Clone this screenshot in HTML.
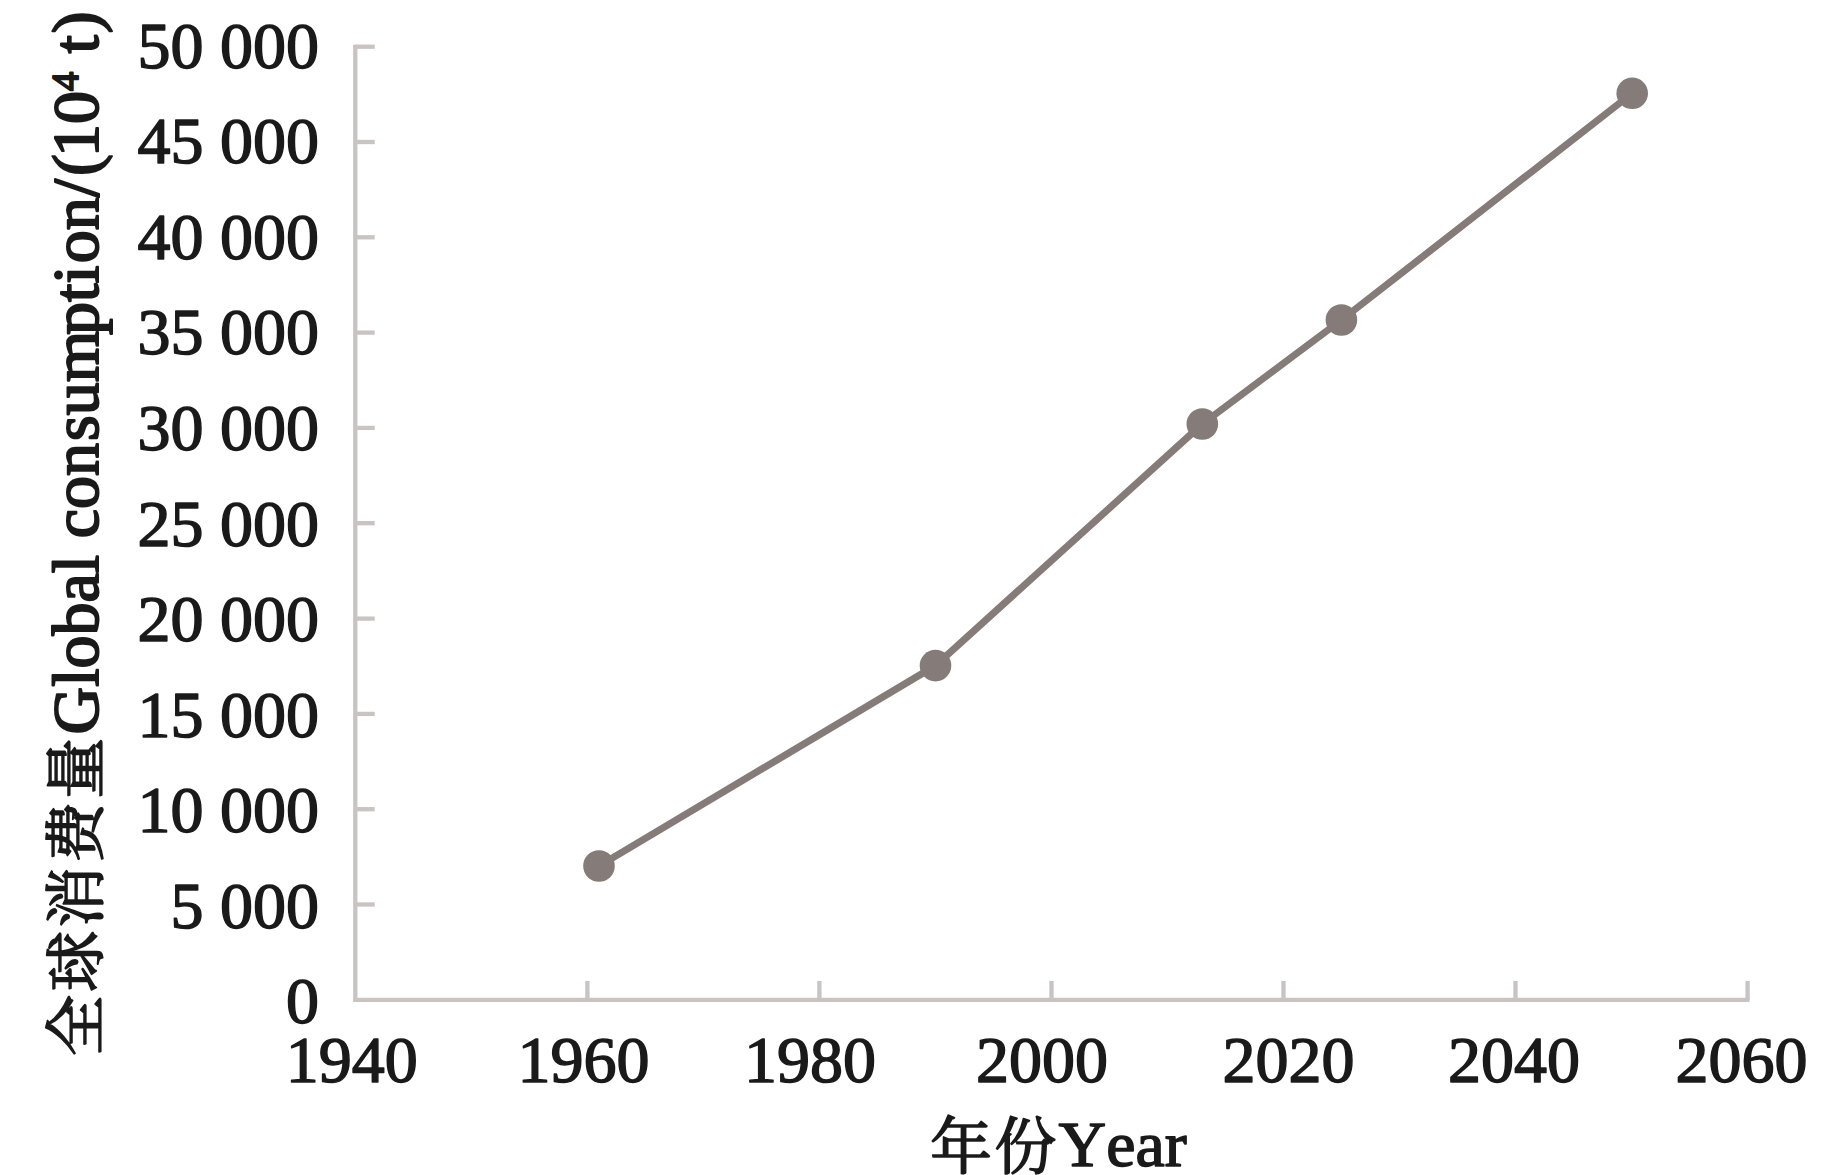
<!DOCTYPE html>
<html lang="zh">
<head>
<meta charset="utf-8">
<title>全球消费量 Global consumption</title>
<style>
html,body{margin:0;padding:0;background:#fff;}
body{width:1843px;height:1175px;overflow:hidden;}
svg{display:block;}
text{font-family:"Liberation Serif","Noto Serif CJK SC",serif;fill:#1a1a1a;stroke:#1a1a1a;stroke-width:1.5px;stroke-linejoin:round;}
.cjk{font-family:"Noto Serif CJK SC","Liberation Serif",serif;font-weight:400;stroke-width:1.6px;}
.num{font-size:66px;}
</style>
</head>
<body>
<svg width="1843" height="1175" viewBox="0 0 1843 1175">
<rect width="1843" height="1175" fill="#fff"/>

<g stroke="#c9c3c1" stroke-width="4.3" fill="none" stroke-linecap="butt">
<path d="M355.3 44.7 V999.8 H1749.5"/>
<path d="M355.3 46.7 H374.7"/>
<path d="M355.3 142.0 H374.7"/>
<path d="M355.3 237.3 H374.7"/>
<path d="M355.3 332.6 H374.7"/>
<path d="M355.3 427.9 H374.7"/>
<path d="M355.3 523.2 H374.7"/>
<path d="M355.3 618.6 H374.7"/>
<path d="M355.3 713.9 H374.7"/>
<path d="M355.3 809.2 H374.7"/>
<path d="M355.3 904.5 H374.7"/>
<path d="M587.4 999.8 V981.0"/>
<path d="M819.4 999.8 V981.0"/>
<path d="M1051.5 999.8 V981.0"/>
<path d="M1283.5 999.8 V981.0"/>
<path d="M1515.5 999.8 V981.0"/>
<path d="M1747.6 999.8 V981.0"/>
</g>
<polyline fill="none" stroke="#857b79" stroke-width="7.1" stroke-linejoin="round" points="599.0,866.0 935.5,665.6 1202.3,424.0 1341.4,320.0 1632.2,93.3"/>
<circle cx="599.0" cy="866.0" r="15.8" fill="#857b79"/>
<circle cx="935.5" cy="665.6" r="15.8" fill="#857b79"/>
<circle cx="1202.3" cy="424.0" r="15.8" fill="#857b79"/>
<circle cx="1341.4" cy="320.0" r="15.8" fill="#857b79"/>
<circle cx="1632.2" cy="93.3" r="15.8" fill="#857b79"/>
<text class="num" x="319" y="67.5" text-anchor="end" word-spacing="0">50 000</text>
<text class="num" x="319" y="163.1" text-anchor="end" word-spacing="0">45 000</text>
<text class="num" x="319" y="258.7" text-anchor="end" word-spacing="0">40 000</text>
<text class="num" x="319" y="354.3" text-anchor="end" word-spacing="0">35 000</text>
<text class="num" x="319" y="449.9" text-anchor="end" word-spacing="0">30 000</text>
<text class="num" x="319" y="545.5" text-anchor="end" word-spacing="0">25 000</text>
<text class="num" x="319" y="641.0" text-anchor="end" word-spacing="0">20 000</text>
<text class="num" x="319" y="736.6" text-anchor="end" word-spacing="0">15 000</text>
<text class="num" x="319" y="832.2" text-anchor="end" word-spacing="0">10 000</text>
<text class="num" x="319" y="927.8" text-anchor="end" word-spacing="0">5 000</text>
<text class="num" x="319" y="1023.4" text-anchor="end" word-spacing="0">0</text>
<text class="num" x="351.8" y="1081.8" text-anchor="middle">1940</text>
<text class="num" x="583.4" y="1081.8" text-anchor="middle">1960</text>
<text class="num" x="809.9" y="1081.8" text-anchor="middle">1980</text>
<text class="num" x="1042.0" y="1081.8" text-anchor="middle">2000</text>
<text class="num" x="1288.6" y="1081.8" text-anchor="middle">2020</text>
<text class="num" x="1514.1" y="1081.8" text-anchor="middle">2040</text>
<text class="num" x="1741.6" y="1081.8" text-anchor="middle">2060</text>
<text x="930" y="1166.3" font-size="64"><tspan class="cjk" font-size="62" letter-spacing="2.3" dy="3">年份</tspan><tspan font-size="63.5" dy="-3" style="font-kerning:none" textLength="128" lengthAdjust="spacingAndGlyphs">Year</tspan></text>
<text transform="translate(98.3 1056) rotate(-90)" font-size="66" style="stroke-width:2px"><tspan class="cjk" font-size="61" letter-spacing="3.3">全球消费量</tspan>Global con<tspan dx="2">sum</tspan><tspan dx="-4">pti</tspan><tspan dx="2">on/</tspan><tspan dx="3">(</tspan><tspan dx="-3">10</tspan><tspan font-size="38" dy="-20">4</tspan><tspan dy="20" letter-spacing="1.9"> t)</tspan></text>
</svg>
</body>
</html>
